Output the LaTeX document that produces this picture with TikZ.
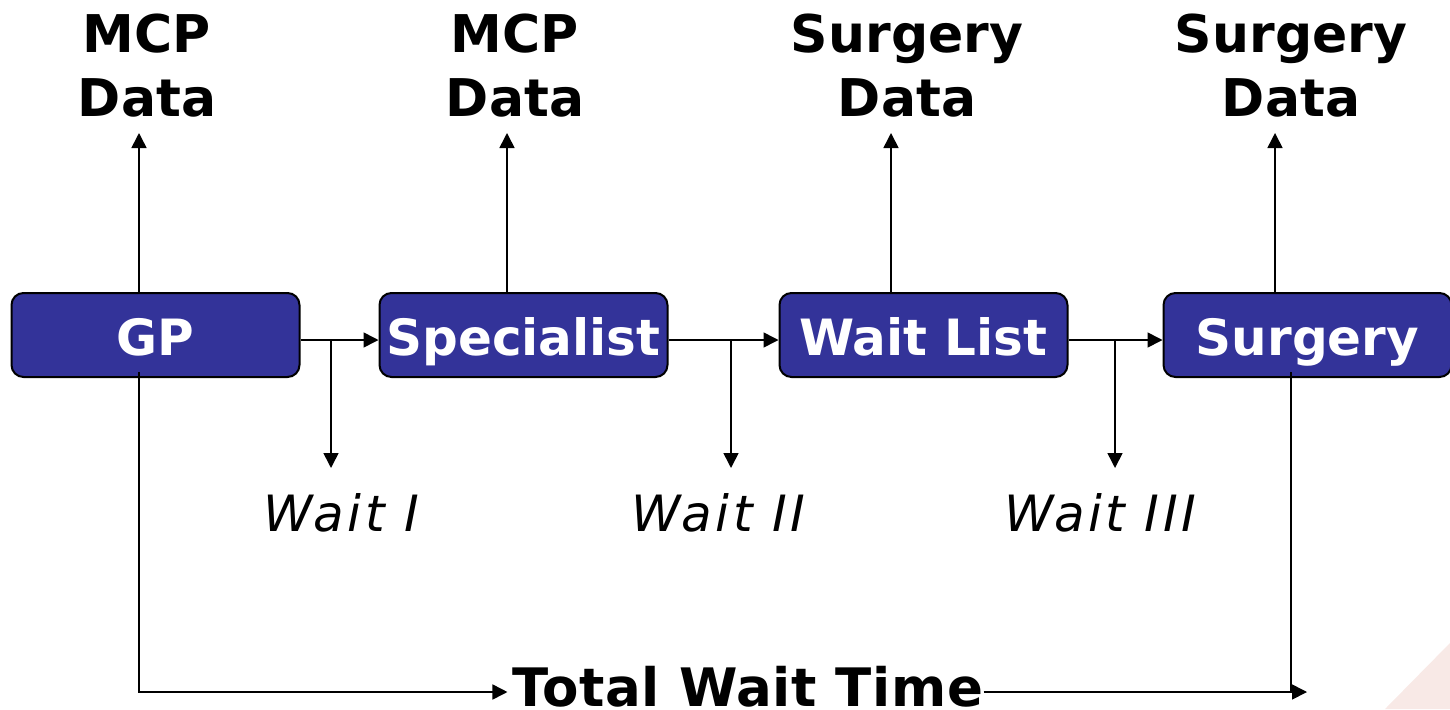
\documentclass[tikz,border=0pt]{standalone}
\usepackage{fontspec}
\setmainfont{DejaVu Sans}
\usetikzlibrary{arrows.meta}
\definecolor{boxblue}{HTML}{333399}
\definecolor{cornerpink}{HTML}{F8E9E6}
\tikzset{
  x=1pt,y=-1pt,
  proc/.style={draw=black,line width=2pt,fill=boxblue,rounded corners=12pt,minimum width=288pt,minimum height=84pt,inner sep=0pt,text=white,text height=41pt,text depth=0pt,font=\fontsize{50}{50}\selectfont\bfseries},
  head/.style={font=\fontsize{52}{64}\selectfont\bfseries,align=center,inner sep=0pt,text=black},
  waitlab/.style={font=\fontsize{50}{50}\selectfont\itshape\addfontfeature{LetterSpace=7},inner sep=0pt,text=black,text height=36pt,text depth=0pt},
  totallab/.style={font=\fontsize{53}{53}\selectfont\bfseries\addfontfeature{LetterSpace=1.2},inner sep=0pt,text=black,text height=38pt,text depth=0pt},
  conn/.style={draw=black,line width=1.6pt},
  arr/.style={conn,-{Triangle[length=15pt,width=15pt]}}
}
\begin{document}
\begin{tikzpicture}
\useasboundingbox (0,0) rectangle (1450,709);
\fill[cornerpink] (1385,709) -- (1450,643) -- (1450,709) -- cycle;
% data labels
\node[head,anchor=center] (d1) at (147,65.5) {MCP\\Data};
\node[head,anchor=center] (d2) at (515,65.5) {MCP\\Data};
\node[head,anchor=center] (d3) at (907,65.5) {Surgery\\Data};
\node[head,anchor=center] (d4) at (1291,65.5) {Surgery\\Data};
% free ends
\coordinate (t1) at (139,133);
\coordinate (t2) at (507,133);
\coordinate (t3) at (891,133);
\coordinate (t4) at (1275,133);
\coordinate (j1) at (331,340);
\coordinate (j2) at (731,340);
\coordinate (j3) at (1115,340);
\coordinate (w1e) at (331,468);
\coordinate (w2e) at (731,468);
\coordinate (w3e) at (1115,468);
\coordinate (gd) at (139,372);
\coordinate (gc) at (139,692);
\coordinate (sd) at (1291,372);
\coordinate (sc) at (1291,692);
\coordinate (se) at (1307,692);
% connectors behind boxes
\draw[arr] (139,300) -- (t1);
\draw[arr] (507,300) -- (t2);
\draw[arr] (891,300) -- (t3);
\draw[arr] (1275,300) -- (t4);
% boxes
\node[proc] (gp) at (155.5,335) {GP};
\node[proc] (sp) at (523.5,335) {Specialist};
\node[proc] (wl) at (923.5,335) {Wait List};
\node[proc] (su) at (1307.5,335) {Surgery};
% waits
\node[waitlab] (w1) at (341,513) {Wait I};
\node[waitlab] (w2) at (718.5,513) {Wait II};
\node[waitlab] (w3) at (1100,513) {Wait III};
\node[totallab] (tw) at (748,687) {Total Wait Time};
% connectors
\draw[arr] (gp.east |- j1) -- (sp.west |- j1);
\draw[arr] (sp.east |- j2) -- (wl.west |- j2);
\draw[arr] (wl.east |- j3) -- (su.west |- j3);
\draw[arr] (j1) -- (w1e);
\draw[arr] (j2) -- (w2e);
\draw[arr] (j3) -- (w3e);
\draw[arr,shorten >=5pt] (gd) -- (gc) -- (tw.west |- gc);
\draw[arr] (tw.east |- sc) -- (se);
\draw[conn] (sd) -- (sc);
\end{tikzpicture}
\end{document}
